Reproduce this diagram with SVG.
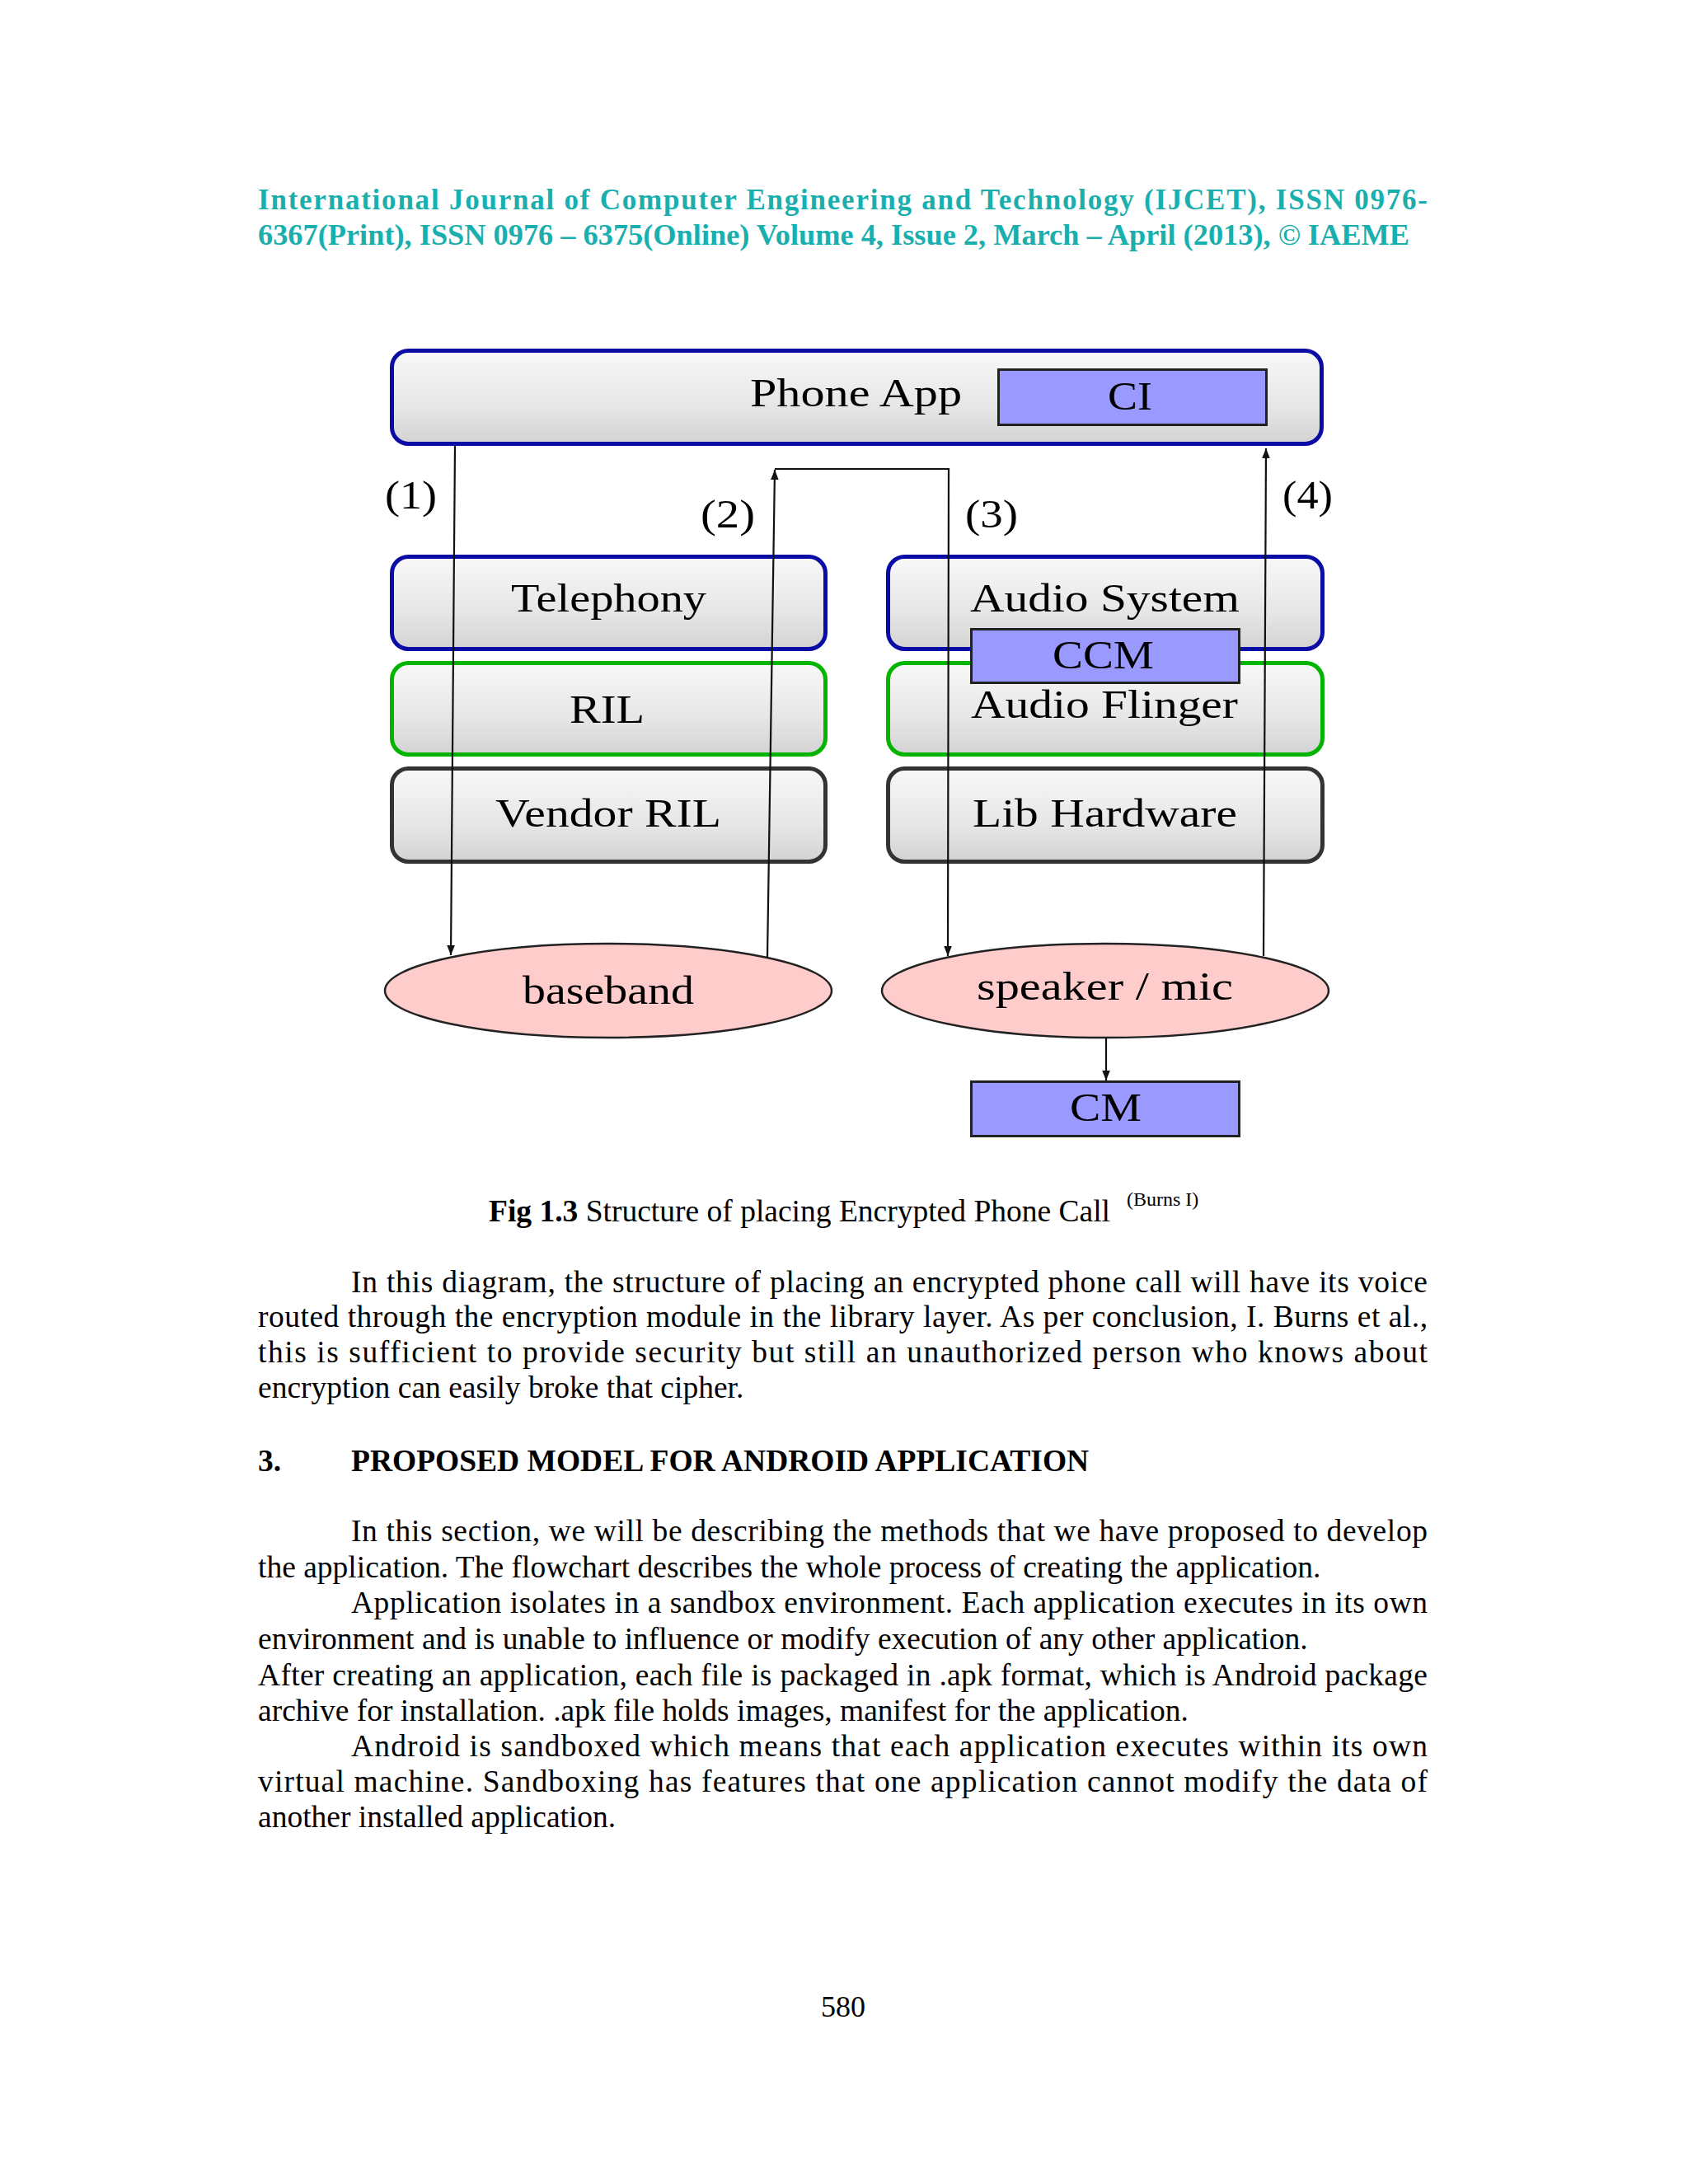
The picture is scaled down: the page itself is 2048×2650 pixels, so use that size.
<svg xmlns="http://www.w3.org/2000/svg" width="2048" height="2650" viewBox="0 0 2048 2650">
<defs>
<linearGradient id="boxg" x1="0" y1="0" x2="0" y2="1">
<stop offset="0" stop-color="#f8f8f8"/>
<stop offset="0.6" stop-color="#e6e6e6"/>
<stop offset="1" stop-color="#d3d3d3"/>
</linearGradient>
<marker id="ah" viewBox="0 0 10 10" refX="10" refY="5" markerWidth="16" markerHeight="12" markerUnits="userSpaceOnUse" orient="auto">
<path d="M0,1 L10,5 L0,9 z" fill="#111"/>
</marker>
<style>
.hdr{font-family:"Liberation Serif","Times New Roman",serif;font-weight:bold;font-size:35px;fill:#1aafaf}
.body{font-family:"Liberation Serif","Times New Roman",serif;font-size:37.5px;fill:#000}
.bold{font-weight:bold}
.lbl{font-family:"Liberation Serif","Times New Roman",serif;font-size:48px;fill:#000}
.box{fill:url(#boxg);stroke-width:5}
.blue{stroke:#0b0ba6}
.green{stroke:#00b400}
.dark{stroke:#333}
.mod{fill:#9999ff;stroke:#222;stroke-width:3}
.ell{fill:#ffcccc;stroke:#222;stroke-width:2.5}
.con{fill:none;stroke:#111;stroke-width:2.2}
</style>
</defs>
<rect width="2048" height="2650" fill="#ffffff"/>

<g id="header">
<text class="hdr" x="313" y="254" textLength="1419" lengthAdjust="spacing">International Journal of Computer Engineering and Technology (IJCET), ISSN 0976-</text>
<text class="hdr" x="313" y="297" textLength="1397" lengthAdjust="spacingAndGlyphs">6367(Print), ISSN 0976 – 6375(Online) Volume 4, Issue 2, March – April (2013), © IAEME</text>
</g>

<g id="phone-app">
<rect class="box blue" x="475.5" y="425.5" width="1128" height="113" rx="20"/>
<text class="lbl" x="910" y="493" textLength="257" lengthAdjust="spacingAndGlyphs">Phone App</text>
</g>
<g id="ci">
<rect class="mod" x="1211.5" y="448.5" width="325" height="67"/>
<text class="lbl" x="1344" y="497" textLength="54" lengthAdjust="spacingAndGlyphs">CI</text>
</g>

<g id="telephony">
<rect class="box blue" x="475.5" y="675.5" width="526" height="112" rx="20"/>
<text class="lbl" x="620" y="742" textLength="237" lengthAdjust="spacingAndGlyphs">Telephony</text>
</g>
<g id="audio-system">
<rect class="box blue" x="1077.5" y="675.5" width="527" height="112" rx="20"/>
<text class="lbl" x="1177" y="742" textLength="327" lengthAdjust="spacingAndGlyphs">Audio System</text>
</g>
<g id="ril">
<rect class="box green" x="475.5" y="804.5" width="526" height="111" rx="20"/>
<text class="lbl" x="691" y="877" textLength="91" lengthAdjust="spacingAndGlyphs">RIL</text>
</g>
<g id="audio-flinger">
<rect class="box green" x="1077.5" y="804.5" width="527" height="111" rx="20"/>
<text class="lbl" x="1178" y="871" textLength="324" lengthAdjust="spacingAndGlyphs">Audio Flinger</text>
</g>
<g id="ccm">
<rect class="mod" x="1178.5" y="763.5" width="325" height="65"/>
<text class="lbl" x="1277" y="811" textLength="123" lengthAdjust="spacingAndGlyphs">CCM</text>
</g>
<g id="vendor-ril">
<rect class="box dark" x="475.5" y="932.5" width="526" height="113" rx="20"/>
<text class="lbl" x="601" y="1003" textLength="274" lengthAdjust="spacingAndGlyphs">Vendor RIL</text>
</g>
<g id="lib-hardware">
<rect class="box dark" x="1077.5" y="932.5" width="527" height="113" rx="20"/>
<text class="lbl" x="1180" y="1003" textLength="321" lengthAdjust="spacingAndGlyphs">Lib Hardware</text>
</g>
<g id="baseband">
<ellipse class="ell" cx="738" cy="1202" rx="271" ry="57"/>
<text class="lbl" x="634" y="1218" textLength="208" lengthAdjust="spacingAndGlyphs">baseband</text>
</g>
<g id="speaker-mic">
<ellipse class="ell" cx="1341" cy="1202" rx="271" ry="57"/>
<text class="lbl" x="1185" y="1213" textLength="311" lengthAdjust="spacingAndGlyphs">speaker / mic</text>
</g>
<g id="cm">
<rect class="mod" x="1178.5" y="1312.5" width="325" height="66"/>
<text class="lbl" x="1298" y="1360" textLength="87" lengthAdjust="spacingAndGlyphs">CM</text>
</g>

<g id="connectors">
<line class="con" x1="552" y1="541" x2="547" y2="1159" marker-end="url(#ah)"/>
<line class="con" x1="931" y1="1162" x2="940" y2="570" marker-end="url(#ah)"/>
<polyline class="con" points="940,569 1151,569 1150,1160" marker-end="url(#ah)"/>
<line class="con" x1="1533" y1="1160" x2="1536" y2="544" marker-end="url(#ah)"/>
<line class="con" x1="1342" y1="1259" x2="1342" y2="1311" marker-end="url(#ah)"/>
</g>

<g id="connector-labels">
<text class="lbl" x="467" y="617" textLength="63" lengthAdjust="spacingAndGlyphs">(1)</text>
<text class="lbl" x="850" y="640" textLength="66" lengthAdjust="spacingAndGlyphs">(2)</text>
<text class="lbl" x="1171" y="640" textLength="64" lengthAdjust="spacingAndGlyphs">(3)</text>
<text class="lbl" x="1556" y="617" textLength="61" lengthAdjust="spacingAndGlyphs">(4)</text>
</g>

<g id="caption">
<text class="body" x="593" y="1482"><tspan class="bold">Fig 1.3</tspan> Structure of placing Encrypted Phone Call</text>
<text class="body" x="1367" y="1463" font-size="24" style="font-size:24px">(Burns I)</text>
</g>

<g id="text">
<text class="body" x="426" y="1568" textLength="1306" lengthAdjust="spacing">In this diagram, the structure of placing an encrypted phone call will have its voice</text>
<text class="body" x="313" y="1610" textLength="1419" lengthAdjust="spacing">routed through the encryption module in the library layer. As per conclusion, I. Burns et al.,</text>
<text class="body" x="313" y="1653" textLength="1419" lengthAdjust="spacing">this is sufficient to provide security but still an unauthorized person who knows about</text>
<text class="body" x="313" y="1696">encryption can easily broke that cipher.</text>

<text class="body bold" x="313" y="1785">3.</text>
<text class="body bold" x="426" y="1785">PROPOSED MODEL FOR ANDROID APPLICATION</text>

<text class="body" x="426" y="1870" textLength="1306" lengthAdjust="spacing">In this section, we will be describing the methods that we have proposed to develop</text>
<text class="body" x="313" y="1914">the application. The flowchart describes the whole process of creating the application.</text>
<text class="body" x="426" y="1957" textLength="1306" lengthAdjust="spacing">Application isolates in a sandbox environment. Each application executes in its own</text>
<text class="body" x="313" y="2001">environment and is unable to influence or modify execution of any other application.</text>
<text class="body" x="313" y="2045" textLength="1419" lengthAdjust="spacing">After creating an application, each file is packaged in .apk format, which is Android package</text>
<text class="body" x="313" y="2088">archive for installation. .apk file holds images, manifest for the application.</text>
<text class="body" x="426" y="2131" textLength="1306" lengthAdjust="spacing">Android is sandboxed which means that each application executes within its own</text>
<text class="body" x="313" y="2174" textLength="1419" lengthAdjust="spacing">virtual machine. Sandboxing has features that one application cannot modify the data of</text>
<text class="body" x="313" y="2217">another installed application.</text>

<text class="body" x="1023" y="2447" text-anchor="middle" style="font-size:36px">580</text>
</g>
</svg>
